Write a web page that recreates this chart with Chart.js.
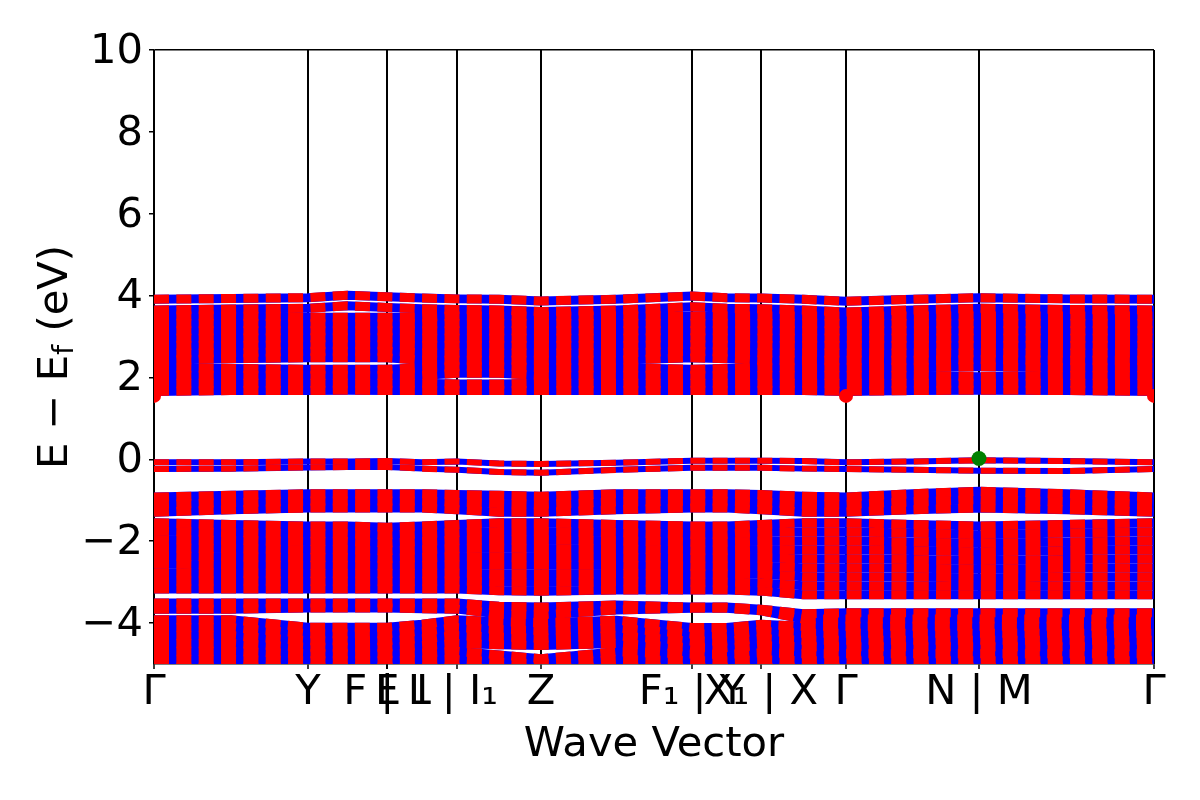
<!DOCTYPE html>
<html><head><meta charset="utf-8">
<script src="https://cdn.jsdelivr.net/npm/chart.js@4.4.1/dist/chart.umd.min.js"></script>
<style>html,body{margin:0;padding:0;background:#fff;}canvas{display:block;}</style>
</head><body>
<canvas id="c" width="1200" height="800"></canvas>
<script>
// k-path distance of the sampled points (high-symmetry points and segment midpoints)
const kDistance = [0, 0.77, 1.54, 1.935, 2.33, 2.68, 3.03, 3.45, 3.87, 4.625, 5.38, 5.725, 6.07, 6.495, 6.92, 7.585, 8.25, 9.125, 10.0];
const tickDistance = [0, 1.54, 2.33, 2.33, 2.33, 3.03, 3.87, 5.38, 6.07, 6.92, 8.25, 10.0];
const tickLabels = ['Γ', 'Y', 'F | L', 'F', 'L', 'I | I₁', 'Z', 'F₁ | Y', 'X₁ | X', 'Γ', 'N | M', 'Γ'];
const energyTicks = [-4, -2, 0, 2, 4, 6, 8, 10];
const xTitle = 'Wave Vector';
const yTitleMain = 'E \u2212 E';
const yTitleSub = 'f';
const yTitleUnit = ' (eV)';

// conduction bands (eV)
const C1 = [1.66,1.68,1.68,1.69,1.68,1.68,1.68,1.68,1.68,1.68,1.68,1.68,1.68,1.68,1.66,1.68,1.69,1.68,1.66];
const C2 = [1.86,1.86,1.86,1.86,1.86,1.86,1.84,1.84,1.86,1.86,1.86,1.86,1.86,1.86,1.86,1.86,1.86,1.86,1.86];
const C3 = [2.05,2.05,2.05,2.05,2.05,2.05,2.10,2.10,2.05,2.05,2.05,2.05,2.05,2.05,2.05,2.05,2.02,2.05,2.05];
const C4 = [2.24,2.22,2.20,2.20,2.20,2.24,2.26,2.26,2.24,2.24,2.20,2.22,2.24,2.24,2.24,2.24,2.26,2.24,2.24];
const C5 = [2.42,2.46,2.48,2.48,2.48,2.42,2.42,2.42,2.42,2.42,2.48,2.46,2.42,2.42,2.42,2.42,2.44,2.42,2.42];
const C6 = [2.60,2.60,2.64,2.64,2.64,2.60,2.60,2.60,2.60,2.60,2.64,2.62,2.60,2.60,2.60,2.60,2.60,2.60,2.60];
const C7 = [2.78,2.78,2.80,2.80,2.80,2.78,2.78,2.78,2.78,2.78,2.80,2.79,2.78,2.78,2.78,2.78,2.78,2.78,2.78];
const C8 = [2.96,2.96,2.97,2.97,2.97,2.96,2.96,2.96,2.96,2.96,2.97,2.96,2.96,2.96,2.96,2.96,2.96,2.96,2.96];
const C9 = [3.14,3.14,3.14,3.14,3.14,3.14,3.14,3.14,3.14,3.14,3.14,3.14,3.14,3.14,3.14,3.14,3.14,3.14,3.14];
const C10 = [3.32,3.32,3.31,3.31,3.31,3.31,3.32,3.32,3.32,3.32,3.32,3.32,3.32,3.32,3.32,3.32,3.32,3.32,3.32];
const C11 = [3.50,3.50,3.47,3.47,3.47,3.47,3.50,3.50,3.50,3.50,3.50,3.50,3.50,3.50,3.50,3.50,3.50,3.50,3.50];
const C12 = [3.65,3.67,3.69,3.75,3.71,3.68,3.66,3.65,3.61,3.65,3.73,3.69,3.68,3.65,3.60,3.65,3.69,3.66,3.65];
const C13 = [3.91,3.93,3.95,4.01,3.97,3.94,3.92,3.91,3.87,3.91,3.99,3.95,3.94,3.91,3.86,3.91,3.95,3.92,3.91];

// top valence bands (eV)
const U1 = [-0.073,-0.073,-0.053,-0.053,-0.043,-0.073,-0.053,-0.103,-0.113,-0.083,-0.033,-0.033,-0.033,-0.043,-0.073,-0.053,-0.023,-0.043,-0.073];
const U2 = [-0.237,-0.227,-0.197,-0.187,-0.187,-0.227,-0.257,-0.307,-0.327,-0.257,-0.207,-0.207,-0.207,-0.227,-0.237,-0.257,-0.277,-0.287,-0.237];

// lower valence bands (eV)
const V1 = [-0.92,-0.88,-0.84,-0.84,-0.84,-0.84,-0.86,-0.88,-0.90,-0.84,-0.84,-0.84,-0.86,-0.90,-0.92,-0.84,-0.78,-0.84,-0.92];
const V2 = [-1.10,-1.06,-1.02,-1.02,-1.02,-1.02,-1.05,-1.08,-1.10,-1.04,-1.02,-1.02,-1.05,-1.10,-1.10,-1.04,-0.98,-1.04,-1.10];
const V3 = [-1.29,-1.23,-1.19,-1.19,-1.19,-1.19,-1.23,-1.29,-1.29,-1.23,-1.19,-1.19,-1.23,-1.29,-1.29,-1.23,-1.19,-1.23,-1.29];
const V4 = [-1.55,-1.59,-1.63,-1.63,-1.66,-1.63,-1.59,-1.55,-1.55,-1.59,-1.63,-1.63,-1.59,-1.55,-1.55,-1.59,-1.63,-1.59,-1.55];
const V5 = [-1.75,-1.79,-1.82,-1.82,-1.85,-1.82,-1.79,-1.76,-1.76,-1.79,-1.83,-1.83,-1.79,-1.77,-1.77,-1.80,-1.84,-1.80,-1.77];
const V6 = [-1.96,-1.98,-2.01,-2.01,-2.04,-2.01,-1.98,-1.97,-1.97,-1.99,-2.02,-2.02,-2.00,-1.99,-1.99,-2.02,-2.05,-2.02,-1.99];
const V7 = [-2.16,-2.18,-2.21,-2.21,-2.23,-2.21,-2.18,-2.17,-2.18,-2.19,-2.22,-2.22,-2.20,-2.21,-2.21,-2.23,-2.26,-2.23,-2.21];
const V8 = [-2.36,-2.38,-2.40,-2.40,-2.42,-2.40,-2.38,-2.38,-2.39,-2.39,-2.41,-2.41,-2.41,-2.43,-2.43,-2.45,-2.47,-2.45,-2.43];
const V9 = [-2.56,-2.58,-2.59,-2.59,-2.60,-2.59,-2.58,-2.59,-2.59,-2.59,-2.61,-2.61,-2.61,-2.65,-2.65,-2.66,-2.68,-2.66,-2.65];
const V10 = [-2.77,-2.78,-2.79,-2.79,-2.79,-2.79,-2.78,-2.80,-2.80,-2.79,-2.80,-2.80,-2.81,-2.87,-2.87,-2.88,-2.89,-2.88,-2.87];
const V11 = [-2.97,-2.97,-2.98,-2.98,-2.98,-2.98,-2.97,-3.00,-3.01,-2.99,-3.00,-3.00,-3.02,-3.09,-3.09,-3.10,-3.10,-3.10,-3.09];
const V12 = [-3.17,-3.17,-3.17,-3.17,-3.17,-3.17,-3.17,-3.21,-3.22,-3.19,-3.19,-3.19,-3.22,-3.31,-3.31,-3.31,-3.31,-3.31,-3.31];
const W1 = [-3.51,-3.51,-3.51,-3.51,-3.51,-3.51,-3.51,-3.59,-3.61,-3.56,-3.61,-3.61,-3.66,-3.77,-3.75,-3.75,-3.75,-3.75,-3.75];
const W2 = [-3.66,-3.66,-3.63,-3.63,-3.63,-3.65,-3.66,-3.78,-3.80,-3.68,-3.64,-3.64,-3.70,-3.90,-3.90,-3.90,-3.90,-3.90,-3.90];
const W3 = [-3.92,-3.92,-4.10,-4.10,-4.10,-4.03,-3.92,-3.97,-3.99,-3.93,-4.11,-4.11,-4.03,-4.08,-4.08,-4.08,-4.08,-4.08,-4.08];
const W4 = [-4.11,-4.11,-4.26,-4.26,-4.26,-4.20,-4.11,-4.16,-4.18,-4.12,-4.27,-4.27,-4.20,-4.25,-4.25,-4.25,-4.25,-4.25,-4.25];
const W5 = [-4.31,-4.31,-4.43,-4.43,-4.43,-4.38,-4.31,-4.34,-4.37,-4.31,-4.44,-4.44,-4.38,-4.42,-4.42,-4.42,-4.42,-4.42,-4.42];
const W6 = [-4.50,-4.50,-4.59,-4.59,-4.59,-4.55,-4.50,-4.53,-4.55,-4.50,-4.60,-4.60,-4.55,-4.58,-4.58,-4.58,-4.58,-4.58,-4.58];
const W7 = [-4.69,-4.69,-4.75,-4.75,-4.75,-4.73,-4.69,-4.78,-4.87,-4.70,-4.76,-4.76,-4.73,-4.75,-4.75,-4.75,-4.75,-4.75,-4.75];
const W8 = [-4.89,-4.89,-4.92,-4.92,-4.92,-4.90,-4.89,-4.95,-5.00,-4.89,-4.92,-4.92,-4.90,-4.92,-4.92,-4.92,-4.92,-4.92,-4.92];
const W9 = [-5.08,-5.08,-5.08,-5.08,-5.08,-5.08,-5.08,-5.10,-5.10,-5.08,-5.08,-5.08,-5.08,-5.08,-5.08,-5.08,-5.08,-5.08,-5.08];

// band extrema markers
const cbmK = [0, 6.92, 10.0];
const cbmE = [1.55, 1.55, 1.55];
const vbmK = [8.25];
const vbmE = [0.02];

const conductionBands = [C1,C2,C3,C4,C5,C6,C7,C8,C9,C10,C11,C12,C13];
const topValenceBands = [U1,U2];
const lowValenceBands = [V1,V2,V3,V4,V5,V6,V7,V8,V9,V10,V11,V12,W1,W2,W3,W4,W5,W6,W7,W8,W9];

function bandSets(list, width) {
  const out = [];
  list.forEach(b => {
    out.push({data: kDistance.map((k,i)=>({x:k, y:b[i]})), borderColor:'#0000ff', borderWidth:width,
              pointRadius:0, order:3, clip:0, tension:0});
    out.push({data: kDistance.map((k,i)=>({x:k, y:b[i]})), borderColor:'#ff0000', borderWidth:width,
              borderDash:[15,7.35], borderCapStyle:'butt', pointRadius:0, order:2, clip:0, tension:0});
  });
  return out;
}

const datasets = [
  ...bandSets(conductionBands, 9),
  ...bandSets(topValenceBands, 6),
  ...bandSets(lowValenceBands, 9),
  {data: cbmK.map((k,i)=>({x:k, y:cbmE[i]})), showLine:false, pointRadius:7, pointBackgroundColor:'#ff0000',
   pointBorderWidth:0, borderColor:'#ff0000', order:1, clip:0},
  {data: vbmK.map((k,i)=>({x:k, y:vbmE[i]})), showLine:false, pointRadius:7.5, pointBackgroundColor:'#008000',
   pointBorderWidth:0, borderColor:'#008000', order:1, clip:0}
];

const FONT = 'DejaVu Sans';
const yTitlePlugin = {
  id: 'yTitle',
  afterDraw(chart) {
    const {ctx, chartArea} = chart;
    const cy = (chartArea.top + chartArea.bottom) / 2;
    ctx.save();
    ctx.translate(67, cy);
    ctx.rotate(-Math.PI / 2);
    ctx.fillStyle = '#000';
    ctx.textBaseline = 'alphabetic';
    ctx.textAlign = 'left';
    const big = '41.67px "' + FONT + '"', small = '29px "' + FONT + '"';
    ctx.font = big;
    const w1 = ctx.measureText(yTitleMain).width;
    const w3 = ctx.measureText(yTitleUnit).width;
    ctx.font = small;
    const w2 = ctx.measureText(yTitleSub).width;
    let x = -(w1 + w2 + w3) / 2;
    ctx.font = big; ctx.fillText(yTitleMain, x, 0); x += w1;
    ctx.font = small; ctx.fillText(yTitleSub, x, 6); x += w2;
    ctx.font = big; ctx.fillText(yTitleUnit, x, 0);
    ctx.restore();
  }
};

new Chart(document.getElementById('c'), {
  type: 'line',
  data: {datasets},
  plugins: [yTitlePlugin],
  options: {
    responsive: false,
    animation: false,
    devicePixelRatio: 1,
    parsing: false,
    normalized: true,
    layout: {padding: {top: 50, right: 46, left: 0, bottom: 0}},
    plugins: {legend: {display: false}, tooltip: {enabled: false}},
    scales: {
      x: {
        type: 'linear', min: 0, max: 10, z: 1,
        afterBuildTicks: s => { s.ticks = tickDistance.map(v => ({value: v})); },
        afterFit: s => { s.height = 136; },
        ticks: {autoSkip: false, maxRotation: 0, minRotation: 0, padding: 3, color: '#000',
                font: {family: FONT, size: 41.67, lineHeight: 1},
                callback: (v, i) => tickLabels[i]},
        grid: {color: '#000', lineWidth: 2, tickColor: '#000', tickWidth: 1.5, tickLength: 5, drawTicks: true},
        border: {display: true, color: '#000', width: 1.5},
        title: {display: true, text: xTitle, color: '#000', font: {family: FONT, size: 41.67},
                padding: {top: 0, bottom: 30}}
      },
      y: {
        type: 'linear', min: -5, max: 10, z: 1,
        afterBuildTicks: s => { s.ticks = energyTicks.map(v => ({value: v})); },
        afterFit: s => { s.width = 154; },
        ticks: {padding: 6, color: '#000', labelOffset: 2,
                font: {family: FONT, size: 41.67, lineHeight: 1},
                callback: v => v < 0 ? '\u2212' + Math.abs(v) : String(v)},
        grid: {color: c => (c.tick && c.tick.value === 10) ? '#000' : 'rgba(0,0,0,0)',
               lineWidth: 1.5, tickColor: '#000', tickWidth: 1.5, tickLength: 5},
        border: {display: true, color: '#000', width: 1.5}
      }
    }
  }
});
</script>
</body></html>
